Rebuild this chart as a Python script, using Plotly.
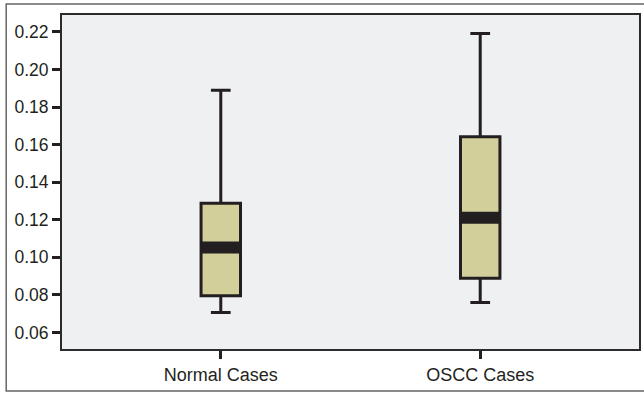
import plotly.graph_objects as go

categories = ["Normal Cases", "OSCC Cases"]
lower_whisker = [0.0706, 0.0759]
q1_values = [0.0795, 0.0889]
median_values = [0.1052, 0.1211]
q3_values = [0.1288, 0.1642]
upper_whisker = [0.189, 0.2191]
y_ticks = [0.06, 0.08, 0.10, 0.12, 0.14, 0.16, 0.18, 0.20, 0.22]

positions = list(range(len(categories)))
BOX_W = 0.152
BAND_HALF = 0.0032
DARK = "#231F20"
FILL = "#D3CF9A"

fig = go.Figure()
fig.add_trace(go.Box(
    x=positions,
    q1=q1_values, median=median_values, q3=q3_values,
    lowerfence=lower_whisker, upperfence=upper_whisker,
    width=BOX_W, whiskerwidth=0.5,
    fillcolor=FILL,
    line=dict(color=DARK, width=3),
    boxpoints=False, hoverinfo="skip", showlegend=False,
))

shapes = []
for p, m in zip(positions, median_values):
    shapes.append(dict(type="rect", xref="x", yref="y",
                       x0=p - BOX_W / 2, x1=p + BOX_W / 2,
                       y0=m - BAND_HALF, y1=m + BAND_HALF,
                       fillcolor=DARK, line=dict(width=0), layer="above"))
# outer frame
shapes.append(dict(type="rect", xref="paper", yref="paper",
                   x0=-0.0967, x1=1.05, y0=-0.1257, y1=1.033,
                   line=dict(color="#666666", width=1.5), fillcolor="rgba(0,0,0,0)"))

fig.update_layout(
    width=644, height=395,
    margin=dict(l=62, r=3, t=15, b=46),
    paper_bgcolor="white",
    plot_bgcolor="#EFF0F2",
    font=dict(family="Liberation Sans, Arial, sans-serif", color=DARK, size=17),
    shapes=shapes,
    xaxis=dict(
        range=[-0.612, 1.612], tickvals=positions, ticktext=categories,
        ticks="outside", ticklen=8, tickwidth=3, tickcolor=DARK,
        showgrid=False, zeroline=False,
        showline=True, linecolor="#2b2b2b", linewidth=2, mirror=True,
        tickfont=dict(size=18),
    ),
    yaxis=dict(
        range=[0.0512, 0.2290], tickvals=y_ticks,
        ticktext=[f"{v:.2f}" for v in y_ticks],
        ticks="outside", ticklen=8, tickwidth=3, tickcolor=DARK,
        showgrid=False, zeroline=False,
        showline=True, linecolor="#2b2b2b", linewidth=2, mirror=True,
        tickfont=dict(size=17.5),
    ),
)

fig.write_html("out.html", config={"displayModeBar": False},
               post_script="document.body.style.margin='0';document.body.style.overflow='hidden';")
